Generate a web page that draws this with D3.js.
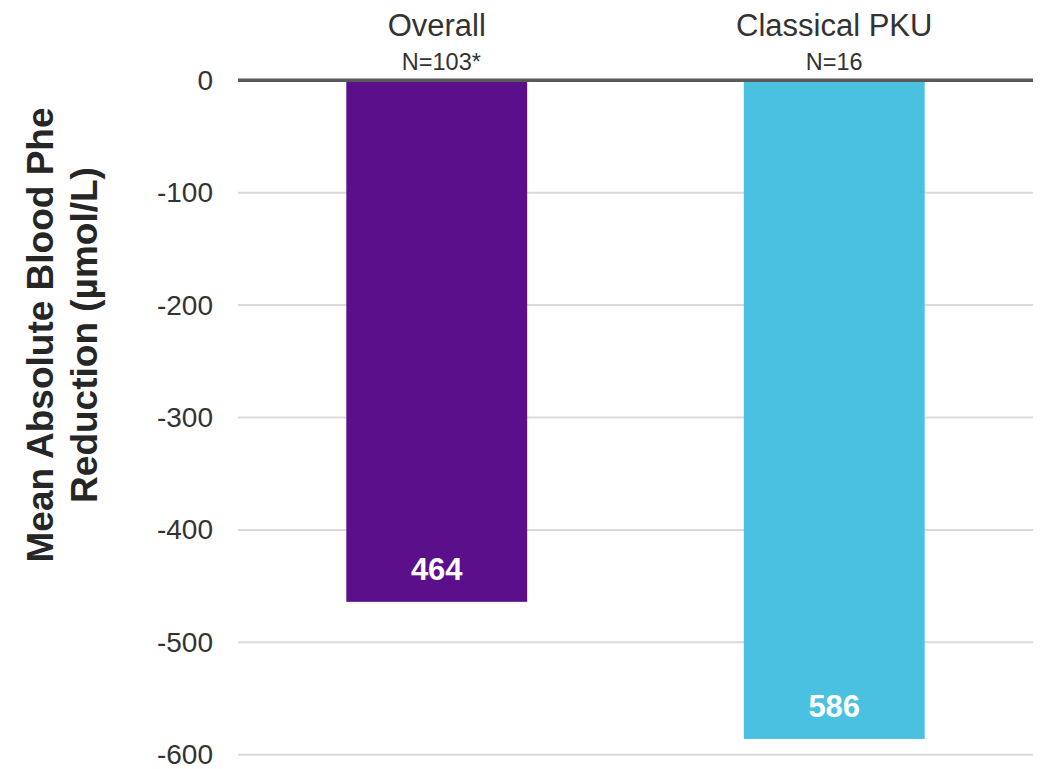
<!DOCTYPE html>
<html>
<head>
<meta charset="utf-8">
<script src="https://cdn.jsdelivr.net/npm/d3@7"></script>
<style>
  html, body { margin: 0; padding: 0; background: #fff; }
  svg { display: block; font-family: "Liberation Sans", Arial, sans-serif; }
</style>
</head>
<body>
<svg id="chart" width="1041" height="769"></svg>
<script>
// Mean absolute blood Phe reduction by group
const categories = ["Overall", "Classical PKU"];
const sampleSizes = ["N=103", "N=16"];
const sampleNotes = ["*", ""];
const reductions = [464, 586];
const barColors = ["#5C0F8B", "#4BC1E1"];
const yTicks = [0, -100, -200, -300, -400, -500, -600];
const yTitleLines = ["Mean Absolute Blood Phe", "Reduction (µmol/L)"];

const svg = d3.select("#chart");
const plot = { left: 238, right: 1033, top: 80.3, bottom: 754.7 };

const x = d3.scaleBand()
  .domain(categories)
  .range([plot.left, plot.right])
  .paddingInner(0.545)
  .paddingOuter(0.2725);

const y = d3.scaleLinear()
  .domain([0, -600])
  .range([plot.top, plot.bottom]);

// Horizontal gridlines
svg.append("g")
  .selectAll("line")
  .data(yTicks.filter(t => t !== 0))
  .join("line")
  .attr("x1", plot.left)
  .attr("x2", plot.right)
  .attr("y1", d => y(d))
  .attr("y2", d => y(d))
  .attr("stroke", "#D9D9D9")
  .attr("stroke-width", 2);

// Y axis tick labels (plain hyphen for negatives)
const yAxis = d3.axisLeft(y)
  .tickValues(yTicks)
  .tickSize(0)
  .tickPadding(0)
  .tickFormat(d => String(d));

const yAxisG = svg.append("g")
  .attr("transform", `translate(213,0)`)
  .call(yAxis);
yAxisG.select(".domain").remove();
yAxisG.selectAll("text")
  .attr("font-size", 28)
  .attr("fill", "#333333")
  .attr("font-family", "Liberation Sans, Arial, sans-serif");

// Bars (negative values hang down from zero)
svg.append("g")
  .selectAll("rect")
  .data(categories)
  .join("rect")
  .attr("x", d => x(d))
  .attr("width", x.bandwidth())
  .attr("y", y(0))
  .attr("height", (d, i) => y(-reductions[i]) - y(0))
  .attr("fill", (d, i) => barColors[i]);

// Zero baseline
svg.append("line")
  .attr("x1", plot.left)
  .attr("x2", plot.right)
  .attr("y1", y(0))
  .attr("y2", y(0))
  .attr("stroke", "#595959")
  .attr("stroke-width", 3.5);

// Value labels inside the bars
svg.append("g")
  .selectAll("text")
  .data(categories)
  .join("text")
  .attr("x", d => x(d) + x.bandwidth() / 2)
  .attr("y", (d, i) => y(-reductions[i]) - 22)
  .attr("text-anchor", "middle")
  .attr("font-size", 31)
  .attr("font-weight", "bold")
  .attr("fill", "#ffffff")
  .text((d, i) => reductions[i]);

// Category headers
svg.append("g")
  .selectAll("text")
  .data(categories)
  .join("text")
  .attr("x", d => x(d) + x.bandwidth() / 2)
  .attr("y", 36)
  .attr("text-anchor", "middle")
  .attr("font-size", 31)
  .attr("fill", "#333333")
  .text(d => d);

// Sample sizes; footnote marks hang past the centred text
const nGroup = svg.append("g");
categories.forEach((c, i) => {
  const t = nGroup.append("text")
    .attr("y", 70)
    .attr("font-size", 23.5)
    .attr("fill", "#333333")
    .text(sampleSizes[i]);
  const w = t.node().getComputedTextLength();
  t.attr("x", x(c) + x.bandwidth() / 2 - w / 2);
  if (sampleNotes[i]) t.append("tspan").text(sampleNotes[i]);
});

// Y axis title
const yTitle = svg.append("text")
  .attr("transform", "translate(0,335) rotate(-90)")
  .attr("text-anchor", "middle")
  .attr("font-size", 37)
  .attr("font-weight", "bold")
  .attr("fill", "#262626");
yTitle.selectAll("tspan")
  .data(yTitleLines)
  .join("tspan")
  .attr("x", 0)
  .attr("y", (d, i) => 53 + i * 44)
  .text(d => d);
</script>
</body>
</html>
